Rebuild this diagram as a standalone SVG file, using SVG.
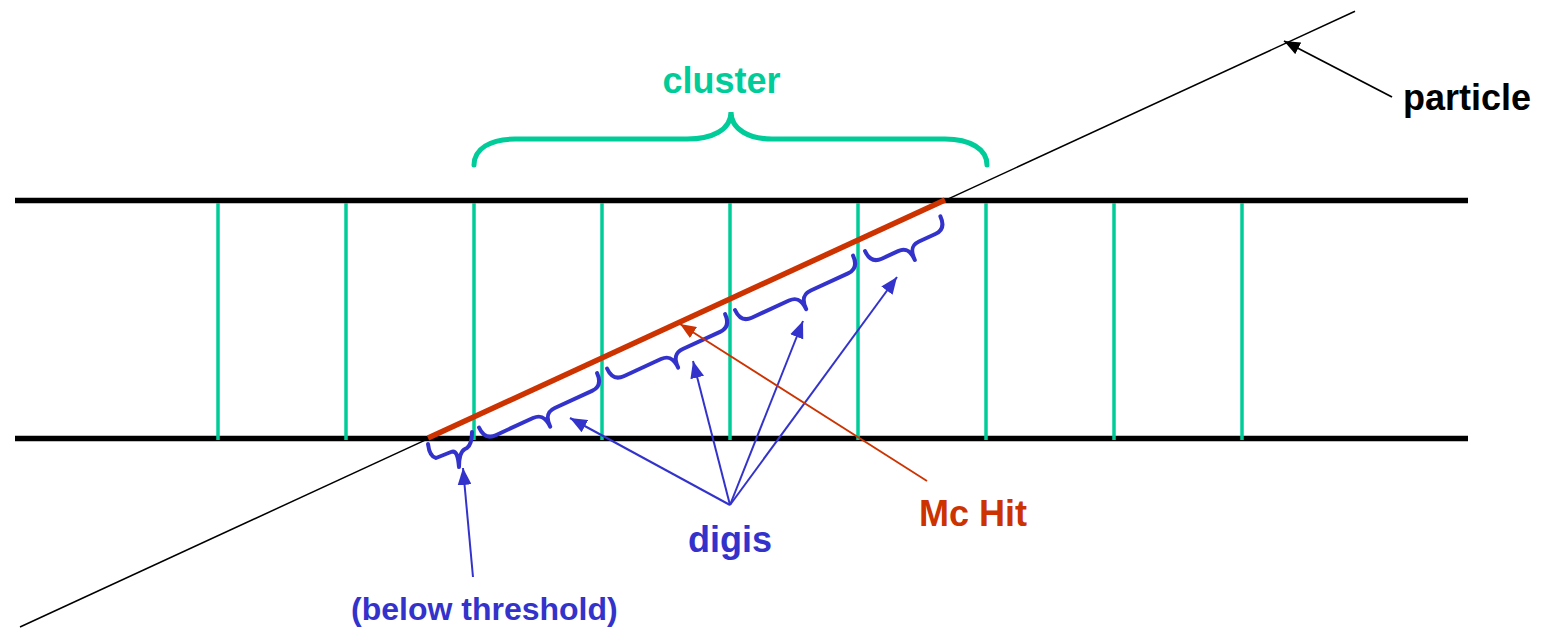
<svg xmlns="http://www.w3.org/2000/svg" width="1545" height="629" viewBox="0 0 1545 629">
<style>
text{font-family:"Liberation Sans",Arial,sans-serif;font-weight:bold}
.det{stroke:#000;stroke-width:5.5;fill:none}
.strip{stroke:#00CC99;stroke-width:3.5;fill:none}
.brace{stroke:#3333CC;stroke-width:4;fill:none;stroke-linecap:round;stroke-linejoin:round}
.blue{stroke:#3333CC;stroke-width:2;fill:none}
</style>
<defs>
<marker id="ab" markerUnits="userSpaceOnUse" markerWidth="17" markerHeight="14" refX="17" refY="7" orient="auto"><path d="M0,0 L17,7 L0,14 z" fill="#3333CC"/></marker>
<marker id="ar" markerUnits="userSpaceOnUse" markerWidth="16" markerHeight="13" refX="16" refY="6.5" orient="auto"><path d="M0,0 L16,6.5 L0,13 z" fill="#CC3300"/></marker>
<marker id="ak" markerUnits="userSpaceOnUse" markerWidth="16" markerHeight="13" refX="16" refY="6.5" orient="auto"><path d="M0,0 L16,6.5 L0,13 z" fill="#000"/></marker>
</defs>
<rect width="1545" height="629" fill="#fff"/>
<g id="detector">
<line class="det" x1="15" y1="200.5" x2="1468" y2="200.5"/>
<line class="det" x1="15" y1="438.5" x2="1468" y2="438.5"/>
<g id="strips">
<line class="strip" x1="218" y1="203" x2="218" y2="440"/>
<line class="strip" x1="346" y1="203" x2="346" y2="440"/>
<line class="strip" x1="474" y1="203" x2="474" y2="440"/>
<line class="strip" x1="602" y1="203" x2="602" y2="440"/>
<line class="strip" x1="730" y1="203" x2="730" y2="440"/>
<line class="strip" x1="858" y1="203" x2="858" y2="440"/>
<line class="strip" x1="986" y1="203" x2="986" y2="440"/>
<line class="strip" x1="1114" y1="203" x2="1114" y2="440"/>
<line class="strip" x1="1242" y1="203" x2="1242" y2="440"/>
</g>
</g>
<g id="particle-track">
<line x1="20" y1="627" x2="1355" y2="11.3" stroke="#000" stroke-width="1.5"/>
</g>
<g id="mchit">
<line x1="428" y1="438" x2="945" y2="200" stroke="#CC3300" stroke-width="5.5"/>
</g>
<g id="cluster">
<path d="M474,165 C474,149 490,139 515,139 L687,139 C712,139 731,130 731,112 C731,130 750,139 772,139 L945,139 C970,139 987,149 987,165" stroke="#00CC99" stroke-width="5" fill="none" stroke-linecap="round"/>
<text x="721.5" y="93" font-size="36" fill="#00CC99" text-anchor="middle">cluster</text>
</g>
<g id="digis">
<path class="brace" d="M428,444 C429,452 431,457 436,458 L451,452 C456,450 458,455 459,467 C459,456 461,451 465,449 L467,448 C471,445 472,440 472,432"/>
<path class="brace" transform="translate(479,427.5) rotate(-24.72)" d="M0,0 C0,9 4,14 12,14 L53,14 C61,14 65,18 65,29 C65,18 69,14 77,14 L118,14 C126,14 130,9 130,0"/>
<path class="brace" transform="translate(607,368.5) rotate(-24.72)" d="M0,0 C0,9 4,14 12,14 L53,14 C61,14 65,18 65,29 C65,18 69,14 77,14 L118,14 C126,14 130,9 130,0"/>
<path class="brace" transform="translate(735,310) rotate(-24.72)" d="M0,0 C0,9 4,14 12,14 L53,14 C61,14 65,18 65,29 C65,18 69,14 77,14 L118,14 C126,14 130,9 130,0"/>
<path class="brace" transform="translate(865,251) rotate(-24.72)" d="M0,0 C0,9 4,14 12,14 L30,14 C38,14 41.5,18 41.5,29 C41.5,18 45,14 53,14 L71,14 C79,14 83,9 83,0"/>
<text x="688" y="552" font-size="36" fill="#3333CC">digis</text>
<text x="351" y="620" font-size="32" fill="#3333CC">(below threshold)</text>
</g>
<g id="labels">
<text x="919" y="526" font-size="36" fill="#CC3300">Mc Hit</text>
<text x="1403" y="110" font-size="36" fill="#000">particle</text>
</g>
<g id="connectors">
<line class="blue" x1="730" y1="505" x2="570" y2="418" marker-end="url(#ab)"/>
<line class="blue" x1="730" y1="505" x2="693" y2="361" marker-end="url(#ab)"/>
<line class="blue" x1="730" y1="505" x2="803" y2="321" marker-end="url(#ab)"/>
<line class="blue" x1="730" y1="505" x2="897" y2="277" marker-end="url(#ab)"/>
<line class="blue" x1="473" y1="577" x2="463" y2="468" marker-end="url(#ab)"/>
<line x1="927" y1="481" x2="680" y2="324" stroke="#CC3300" stroke-width="1.8" marker-end="url(#ar)"/>
<line x1="1392" y1="97" x2="1284" y2="41" stroke="#000" stroke-width="1.8" marker-end="url(#ak)"/>
</g>
</svg>
